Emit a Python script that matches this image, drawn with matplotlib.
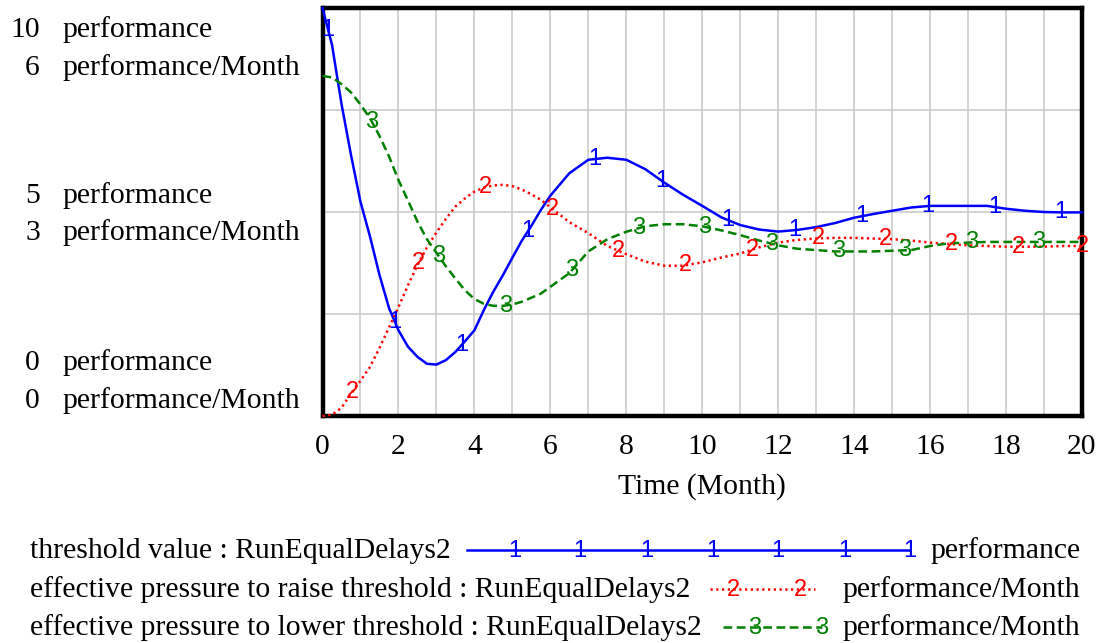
import numpy as np
import matplotlib
matplotlib.use("Agg")
import matplotlib.pyplot as plt

# ---------------- data ----------------
time = [0, 0.25, 0.5, 0.75, 1, 1.25, 1.5, 1.75, 2, 2.25, 2.5, 2.75, 3, 3.25, 3.5, 3.75,
        4, 4.25, 4.5, 4.75, 5, 5.25, 5.5, 5.75, 6,
        6.5, 7, 7.5, 8, 8.5, 9, 9.5, 10, 10.5, 11, 11.5, 12, 12.5, 13, 13.5, 14, 14.5,
        15, 15.5, 16, 16.5, 17, 17.5, 18, 18.5, 19, 19.5, 20]

threshold_value = [10, 9.1, 7.65, 6.4, 5.25, 4.4, 3.46, 2.65, 2.1, 1.7, 1.45, 1.28, 1.26, 1.37,
                   1.57, 1.83, 2.1, 2.6, 3.05, 3.45, 3.88, 4.3, 4.66, 5.05, 5.4,
                   5.95, 6.28, 6.33, 6.28, 6.05, 5.72, 5.42, 5.15, 4.87, 4.68, 4.57, 4.52,
                   4.56, 4.63, 4.73, 4.86, 4.95, 5.03, 5.11, 5.15, 5.15, 5.15, 5.15, 5.08,
                   5.03, 5.0, 4.99, 4.99]

pressure_raise = [0, 0.02, 0.12, 0.33, 0.52, 0.72, 1.0, 1.3, 1.6, 1.92, 2.22, 2.48, 2.7, 2.9,
                  3.08, 3.2, 3.3, 3.36, 3.39, 3.4, 3.38, 3.33, 3.26, 3.18, 3.07,
                  2.85, 2.69, 2.5, 2.38, 2.27, 2.21, 2.21, 2.26, 2.33, 2.39, 2.48, 2.55,
                  2.59, 2.61, 2.62, 2.62, 2.61, 2.6, 2.58, 2.55, 2.53, 2.51, 2.5, 2.49,
                  2.49, 2.49, 2.5, 2.5]

pressure_lower = [5.0, 4.98, 4.88, 4.76, 4.58, 4.38, 4.12, 3.82, 3.47, 3.17, 2.86, 2.6, 2.4,
                  2.2, 2.02, 1.85, 1.72, 1.65, 1.62, 1.62, 1.64, 1.68, 1.74, 1.8, 1.9,
                  2.1, 2.42, 2.6, 2.71, 2.79, 2.82, 2.82, 2.79, 2.73, 2.66, 2.58, 2.51,
                  2.46, 2.44, 2.42, 2.42, 2.42, 2.43, 2.44, 2.5, 2.54, 2.55, 2.56, 2.56,
                  2.56, 2.56, 2.56, 2.56]

x_ticks = [0, 2, 4, 6, 8, 10, 12, 14, 16, 18, 20]
series_names = ["threshold value : RunEqualDelays2",
                "effective pressure to raise threshold : RunEqualDelays2",
                "effective pressure to lower threshold : RunEqualDelays2"]
series_units = ["performance", "performance/Month", "performance/Month"]
y_labels = [("10", "performance"), ("6", "performance/Month"),
            ("5", "performance"), ("3", "performance/Month"),
            ("0", "performance"), ("0", "performance/Month")]

# ---------------- figure ----------------
W, H = 1097, 643
fig = plt.figure(figsize=(W / 100, H / 100), dpi=100)
serif = ["Liberation Serif", "DejaVu Serif"]
sans = ["Liberation Sans", "DejaVu Sans"]
FS = 21.3
MFS = 17

L, R, T, B = 322.5, 1082, 8, 416
ax = fig.add_axes([L / W, 1 - B / H, (R - L) / W, (B - T) / H])
ax.set_xlim(0, 20)
ax.set_ylim(0, 10)  # performance scale; per-month series scaled by 10/6
ax.set_xticks(np.arange(0, 21, 1))
ax.set_yticks([0, 2.5, 5, 7.5, 10])
ax.grid(True, color="#c8c8c8", linewidth=1.1)
ax.set_axisbelow(True)
ax.tick_params(length=0, labelleft=False, labelbottom=False)
for s in ax.spines.values():
    s.set_linewidth(3.2)
    s.set_color("black")

t = np.array(time)
s1 = np.array(threshold_value)
s2 = np.array(pressure_raise) * 10 / 6
s3 = np.array(pressure_lower) * 10 / 6

blue, red, green = "#0000ff", "#ff0000", "#008000"
LW = 1.8
red_ls = (0, (0.9, 1.4))
green_ls = (0, (3.5, 1.8))
ax.plot(t, s1, color=blue, lw=LW, solid_joinstyle="round", clip_on=False, zorder=3)
ax.plot(t, s2, color=red, lw=LW, linestyle=red_ls, clip_on=False, zorder=3)
ax.plot(t, s3, color=green, lw=LW, linestyle=green_ls, clip_on=False, zorder=3)

step = 1.755
for col, ys, start, lab in [(blue, s1, 0.15, "1"), (red, s2, 0.78, "2"), (green, s3, 1.3, "3")]:
    for xm in np.arange(start, 20.01, step):
        ax.text(xm, np.interp(xm, t, ys), lab, color=col, fontsize=MFS, family=sans,
                ha="center", va="center", zorder=4, clip_on=False)
ax.text(20, np.interp(20, t, s2), "2", color=red, fontsize=MFS, family=sans,
        ha="center", va="center", zorder=4, clip_on=False)

# overlay axes in pixel coordinates for labels and legend
ov = fig.add_axes([0, 0, 1, 1])
ov.set_xlim(0, W)
ov.set_ylim(H, 0)
ov.axis("off")
ov.patch.set_alpha(0)

label_rows = [30, 68, 196, 233, 363, 401]
for (num, unit), yy in zip(y_labels, label_rows):
    ov.text(40, yy, num, ha="right", va="center", fontsize=FS, family=serif)
    ov.text(62, yy, unit, ha="left", va="center", fontsize=FS, family=serif)

for xt in x_ticks:
    xp = L + (R - L) * xt / 20
    ov.text(xp, 447, str(xt), ha="center", va="center", fontsize=FS, family=serif)
ov.text((L + R) / 2, 487, "Time (Month)", ha="center", va="center", fontsize=FS, family=serif)

# legend
rows = [551, 590, 628]
ov.text(30, rows[0], series_names[0], ha="left", va="center", fontsize=FS, family=serif)
ov.plot([467, 910], [rows[0] - 1, rows[0] - 1], color=blue, lw=LW)
for xm in [515, 580, 647, 713, 778, 845, 910]:
    ov.text(xm, rows[0], "1", color=blue, fontsize=MFS, family=sans, ha="center", va="center")
ov.text(930, rows[0], series_units[0], ha="left", va="center", fontsize=FS, family=serif)

ov.text(30, rows[1], series_names[1], ha="left", va="center", fontsize=FS, family=serif)
ov.plot([710, 815], [rows[1] - 1, rows[1] - 1], color=red, lw=LW, linestyle=red_ls)
for xm in [733, 800]:
    ov.text(xm, rows[1], "2", color=red, fontsize=MFS, family=sans, ha="center", va="center")
ov.text(842, rows[1], series_units[1], ha="left", va="center", fontsize=FS, family=serif)

ov.text(30, rows[2], series_names[2], ha="left", va="center", fontsize=FS, family=serif)
ov.plot([723, 822], [rows[2] - 1, rows[2] - 1], color=green, lw=LW, linestyle=green_ls)
for xm in [755, 822]:
    ov.text(xm, rows[2], "3", color=green, fontsize=MFS, family=sans, ha="center", va="center")
ov.text(842, rows[2], series_units[2], ha="left", va="center", fontsize=FS, family=serif)

fig.savefig("out.png", dpi=100)
